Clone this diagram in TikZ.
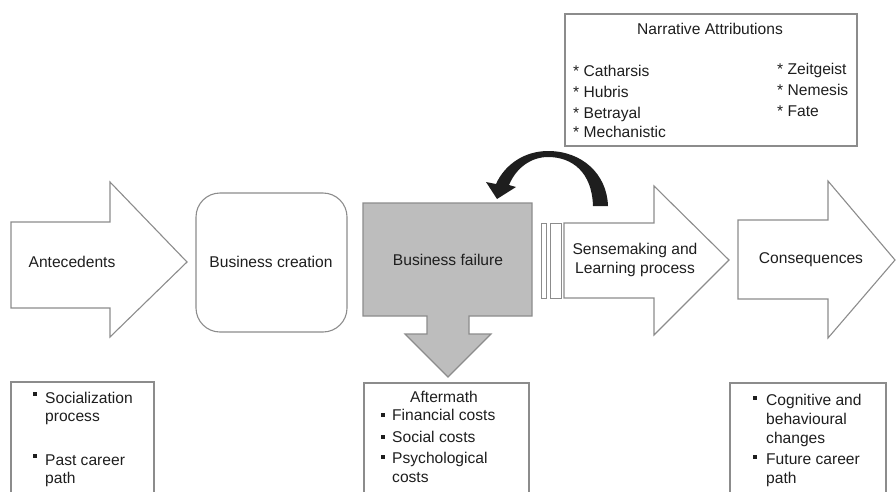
\documentclass[tikz,border=0pt]{standalone}
\usepackage{fontspec}
\setmainfont{Liberation Sans}
\definecolor{edge}{HTML}{8C8C8C}
\definecolor{failfill}{HTML}{BDBDBD}
\definecolor{ink}{HTML}{1E1E1E}
\begin{document}
\begin{tikzpicture}[x=1pt,y=-1pt,
  shapeline/.style={draw=edge,line width=1.1pt,line join=miter},
  lbl/.style={inner sep=0pt,text=ink,font=\fontsize{15.6}{19}\selectfont},
  lst/.style={lbl,anchor=base west},
  bul/.style={fill=ink}]
\useasboundingbox (0,0) rectangle (896,491);
\clip (0,0) rectangle (896,491);
% Antecedents arrow
\draw[shapeline,fill=white] (11,222) -- (110,222) -- (110,182) -- (187,262) -- (110,337) -- (110,308) -- (11,308) -- cycle;
\node[lbl] (ante) at (72,262) {Antecedents};
% Business creation
\draw[shapeline,fill=white,rounded corners=24pt] (196,193) rectangle (347,332);
\node[lbl] (creation) at (271,262) {Business creation};
% Business failure
\draw[shapeline,fill=failfill] (363,203) -- (532,203) -- (532,316) -- (469,316) -- (469,334) -- (491,334) -- (448,377) -- (405,334) -- (427,334) -- (427,316) -- (363,316) -- cycle;
\node[lbl] (failure) at (448,260) {Business failure};
% bars
\draw[shapeline,line width=0.9pt] (541,223) rectangle (546,298);
\draw[shapeline,line width=0.9pt] (550,223) rectangle (561,298);
% Sensemaking arrow
\draw[shapeline,fill=white] (564,223) -- (654,223) -- (654,186) -- (729,260) -- (654,335) -- (654,298) -- (564,298) -- cycle;
\node[lbl,align=center] (sense) at (635,260) {Sensemaking and\\Learning process};
% Consequences arrow
\draw[shapeline,fill=white] (738,220) -- (828,220) -- (828,181) -- (895,260) -- (828,338) -- (828,299) -- (738,299) -- cycle;
\node[lbl] (conseq) at (811,260) {Consequences};
% Curved feedback arrow
\fill[ink] (608,206) -- (593,206) .. controls (592,172) and (572,157) .. (548,157)
  .. controls (531,157) and (516,168) .. (509,185) -- (516,187) -- (497,199) -- (486,182) -- (496,184)
  .. controls (505,164) and (525,151) .. (548,151) .. controls (582,151) and (607,174) .. (608,206) -- cycle;
% Narrative attributions box
\draw[shapeline] (565,14) rectangle (857,146);
\node[lbl] (narr) at (710,29) {Narrative Attributions};
\node[lst] (n1) at (573,76) {* Catharsis};
\node[lst] (n2) at (573,97) {* Hubris};
\node[lst] (n3) at (573,118) {* Betrayal};
\node[lst] (n4) at (573,137) {* Mechanistic};
\node[lst] (n5) at (777,74) {* Zeitgeist};
\node[lst] (n6) at (777,95) {* Nemesis};
\node[lst] (n7) at (777,116) {* Fate};
% Bottom left box
\draw[shapeline] (11,382) rectangle (154,500);
\fill[bul] (33,392) rectangle (37,396);
\node[lst] (l1) at (45,403) {Socialization};
\node[lst] (l2) at (45,421) {process};
\fill[bul] (33,454) rectangle (37,458);
\node[lst] (l3) at (45,465) {Past career};
\node[lst] (l4) at (45,483) {path};
% Bottom middle box
\draw[shapeline] (364,383) rectangle (529,500);
\node[lbl,anchor=base] (m0) at (444,402) {Aftermath};
\fill[bul] (381,413) rectangle (385,417);
\node[lst] (m1) at (392,420) {Financial costs};
\fill[bul] (381,435) rectangle (385,439);
\node[lst] (m2) at (392,442) {Social costs};
\fill[bul] (381,455) rectangle (385,459);
\node[lst] (m3) at (392,463) {Psychological};
\node[lst] (m4) at (392,482) {costs};
% Bottom right box
\draw[shapeline] (730,383) rectangle (886,500);
\fill[bul] (753,396) rectangle (757,400);
\node[lst] (r1) at (766,405) {Cognitive and};
\node[lst] (r2) at (766,424) {behavioural};
\node[lst] (r3) at (766,443) {changes};
\fill[bul] (753,455) rectangle (757,459);
\node[lst] (r4) at (766,464) {Future career};
\node[lst] (r5) at (766,483) {path};
\end{tikzpicture}
\end{document}
